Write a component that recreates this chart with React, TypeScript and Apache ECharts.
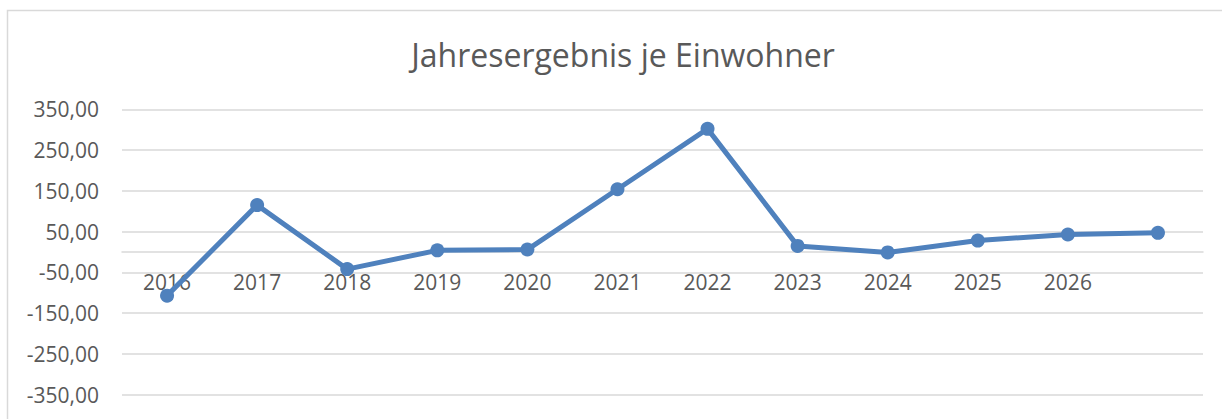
import React, { useEffect, useRef } from "react";
import * as echarts from "echarts";

const categories = ["2016", "2017", "2018", "2019", "2020", "2021", "2022", "2023", "2024", "2025", "2026", ""];
const values = [-107, 115, -42, 4, 6, 154, 302, 15, -1, 28, 43, 47];
const yTicks = [350, 250, 150, 50, -50, -150, -250, -350];
const titleText = "Jahresergebnis je Einwohner";

const fmt = (v: number) => v.toFixed(2).replace(".", ",");

const H = 419;
const GRID_TOP = 109.3;
const GRID_BOTTOM = 24.3;
const Y_MIN = -350;
const Y_MAX = 350;

export default function App() {
  const ref = useRef<HTMLDivElement>(null);
  useEffect(() => {
    if (!ref.current) return;
    const chart = echarts.init(ref.current, undefined, { renderer: "svg" });
    const font = "'Open Sans', 'Noto Sans', sans-serif";
    const plotH = H - GRID_TOP - GRID_BOTTOM;
    const zeroOffset = -(plotH * (0 - Y_MIN)) / (Y_MAX - Y_MIN);
    chart.setOption({
      animation: false,
      backgroundColor: "#ffffff",
      textStyle: { fontFamily: font },
      title: {
        text: titleText,
        left: 618,
        top: 33,
        textAlign: "center",
        textStyle: { fontFamily: font, fontSize: 32, fontWeight: "normal", color: "#595959" },
      },
      graphic: [
        {
          type: "rect",
          shape: { x: 7.5, y: 10.5, width: 1400, height: 600 },
          style: { fill: "none", stroke: "#d9d9d9", lineWidth: 1.5 },
          silent: true,
        },
      ],
      grid: {
        left: 122,
        right: 19,
        top: GRID_TOP,
        bottom: GRID_BOTTOM,
        containLabel: false,
        outerBoundsMode: "none",
      },
      xAxis: {
        type: "category",
        data: categories,
        boundaryGap: true,
        position: "bottom",
        offset: zeroOffset,
        axisLine: { onZero: false, lineStyle: { color: "#d9d9d9", width: 1.5 } },
        axisTick: { show: false },
        axisLabel: { color: "#595959", fontSize: 21, fontFamily: font, margin: 19, interval: 0 },
        splitLine: { show: false },
      },
      yAxis: {
        type: "value",
        min: Y_MIN,
        max: Y_MAX,
        interval: 50,
        axisLine: { show: false },
        axisTick: { show: false },
        axisLabel: {
          color: "#595959",
          fontSize: 21,
          fontFamily: font,
          margin: 23,
          formatter: (v: number) => (yTicks.indexOf(v) >= 0 ? fmt(v) : ""),
        },
        splitLine: { show: true, lineStyle: { color: ["#d9d9d9", "rgba(0,0,0,0)"], width: 1.5 } },
      },
      series: [
        {
          type: "line",
          data: values,
          symbol: "circle",
          symbolSize: 14,
          lineStyle: { color: "#4f81bd", width: 5 },
          itemStyle: { color: "#4f81bd" },
          z: 3,
        },
      ],
    });
    return () => chart.dispose();
  }, []);
  return (
    <div
      ref={ref}
      style={{ position: "fixed", left: 0, top: 0, width: 1222, height: H, background: "#fff" }}
    />
  );
}
